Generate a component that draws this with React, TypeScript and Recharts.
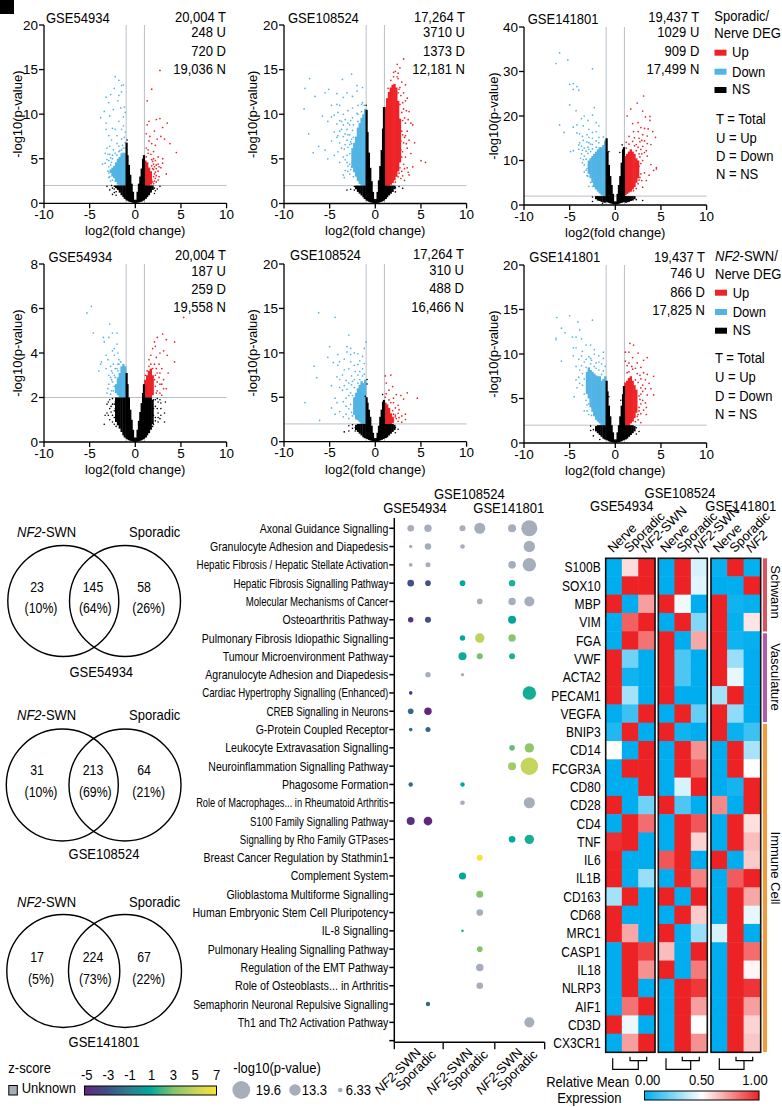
import { ScatterChart, Scatter, XAxis, YAxis, ReferenceLine, ReferenceArea, Label } from 'recharts';

const FONT = '"Liberation Sans", Arial, sans-serif';
const RED = '#ed2327';
const BLUE = '#52b4e5';
const GRID = '#b9c0cb';

// dense part of each volcano, one row per x: [x, lowest y, highest y]
const s54Ns = [[0, .02, .15], [-.1, .05, .4], [-.25, .08, 1.3], [-.4, .1, 2.2], [-.55, .15, 3.2], [-.7, .2, 4.3], [-.85, .3, 5.4], [-.95, .35, 6.8], [-1.15, .5, 2], [-1.3, .7, 2], [-1.5, .9, 2], [-1.7, 1.2, 2], [-1.9, 1.5, 2], [-2.1, 1.7, 2], [.1, .05, .4], [.25, .08, 1.3], [.4, .1, 2.2], [.55, .15, 3], [.7, .2, 3.9], [.85, .3, 5], [.95, .35, 5.4], [1.15, .5, 2], [1.3, .7, 2], [1.5, .9, 2], [1.7, 1.2, 2], [1.9, 1.5, 2]];
const s54NsDots = [[-2.5, 1, 1.7], [-2.8, 1.5], [-2.3, 1.2, 1.6, 1.9], [-2.1, .9, 1.3], [2.1, 1.1, 1.7], [2.4, 1.6], [2.7, 1.9], [-3.1, 1.9], [-2.6, 2], [-.9, 7.1], [2.2, 1.4]];
const s54Down = [[-1.1, 2, 5.6], [-1.3, 2, 5.7], [-1.5, 2, 5.6], [-1.7, 2, 5.2], [-1.9, 2.1, 5], [-2.1, 2.4, 4.6], [-2.3, 2.8, 4.2], [-2.5, 3, 4], [-2.7, 3.4, 3.8]];
const s54DownDots = [[-2.2, 14.2], [-1.8, 13.8], [-1.5, 13.2], [-2.3, 12.9], [-1.3, 13.3], [-1.5, 12.5], [-2.7, 12.2], [-1.8, 12.1], [-3.2, 11.9], [-2.9, 11.3], [-1.9, 11.5], [-1.2, 10.8], [-1.6, 10.7], [-2.4, 10.5], [-3.4, 10.3], [-1.1, 10.2, 8, 6.8, 6.2], [-3.8, 9.6], [-2.8, 9.8], [-1.3, 9.7, 8.7, 6.2], [-1.8, 9.2, 6.4, 5.8], [-3.2, 9, 8.3], [-2.5, 8.4, 5.4, 5, 2.6], [-2.2, 8.3, 5.6, 3.2, 2.5], [-1.5, 8.3, 7.2, 6], [-2.9, 7.6, 4.1, 3.4], [-2, 7.6, 6.7, 5.4], [-2.6, 7.1, 4.6, 3.6], [-1.2, 7.4], [-2.8, 6.4, 5.5, 3], [-3.1, 6.2, 4.9], [-2.4, 6, 3.3], [-1.4, 6.5], [-3, 5.5, 3.6], [-3.3, 4.5, 5.6], [-3.6, 4.4], [-2.9, 4.8, 2.9], [-2.7, 5.1, 4.3, 2.5], [-1.7, 5.9]];
const s54Up = [[1.1, 2, 4.8], [1.3, 2, 4.6], [1.5, 2, 4], [1.7, 2.1, 3.6]];
const s54UpDots = [[2.7, 14.9], [1.8, 12.8], [1.3, 11.5], [2.7, 9.5], [2.3, 9.4], [3.5, 9], [1.5, 9.2, 7], [1.3, 8.8], [3, 8.5, 4.5, 5], [2.1, 8.1], [1.6, 7.5], [1.2, 7.8, 6.2, 5.2], [2.4, 7.2], [3.2, 7.2], [2.8, 7.5, 4], [1.8, 6.7, 4.9, 4.2, 2.6], [2.2, 6.5, 4.8, 3.5, 2.8], [3.8, 6.7], [4.5, 5.7], [1.4, 6, 5.6], [1.7, 5.5], [2.5, 5.2, 3.6, 2.6, 4.4], [2, 5.8, 5, 4.4, 3.8, 3, 2.2], [3.4, 3.3], [2.6, 3, 4.1], [2.3, 3.9, 2.4, 4.3, 3.1], [1.9, 3.9, 4.7, 2.4], [2.1, 2.5, 3.3, 4.1]];

const s108Ns = [[0, .02, .2], [-.1, .05, .5], [-.25, .08, 1.3], [-.4, .1, 2.5], [-.55, .15, 4], [-.7, .2, 5.7], [-.85, .3, 8], [-.95, .35, 10.5], [-1.15, .5, 2], [-1.3, .7, 2], [-1.5, .9, 2], [-1.7, 1.1, 2], [-1.9, 1.3, 2], [-2.1, 1.6, 2], [.1, .05, .5], [.25, .08, 1.3], [.4, .1, 2.6], [.55, .15, 4.2], [.7, .2, 6], [.85, .3, 8.4], [.95, .35, 10.8], [1.15, .5, 2], [1.3, .7, 2], [1.5, .9, 2], [1.7, 1.1, 2], [1.9, 1.3, 2], [2.1, 1.6, 2]];
const s108NsDots = [[-2.3, 1.5, 1.9], [-2.7, 1.6], [-3.1, 1.5], [2.2, 1.3, 1.8], [2.6, 1.9], [3, 1.7], [-1, 11]];
const s108Down = [[-1.1, 2, 10.6], [-1.3, 2, 10], [-1.5, 2, 9.6], [-1.7, 2.2, 9], [-1.9, 2.5, 8.5], [-2.1, 3, 7.5], [-2.3, 3.5, 6.8], [-2.5, 4, 6.2]];
const s108DownDots = [[-7.7, 12.9], [-7.2, 14], [-7.8, 10.6], [-7.3, 7.8], [-6.6, 12], [-5.8, 9.8], [-6.2, 6.4], [-6.8, 5.7], [-5.5, 6], [-5.1, 12.8], [-5.5, 12.4], [-2.6, 14.5], [-3.6, 13.9], [-2, 13.2, 12.6, 10.1], [-1.4, 13, 11.3], [-3.1, 12.4, 8.3, 5.4, 7.1, 4.6], [-4.2, 12.3, 11.1, 8.9, 7.4], [-3.5, 11.9, 10, 7.5, 5.2, 3.2, 8.8], [-2.5, 12, 10.7, 9.6, 8.2], [-4.8, 11, 9.7, 7], [-3.9, 11, 9.3, 6.8, 4.6, 8.1], [-1.2, 11], [-3, 10.4, 9, 4.2, 6.3, 7.7, 3.6], [-4.5, 9.9, 8, 5.4], [-3.3, 9.4, 6.6, 3.7, 7.8, 4.9], [-5.2, 9.2, 5], [-2.8, 8.8, 7.7, 3.3, 6.6, 5.6, 4.4], [-3.7, 8.3, 6.2, 9.2], [-4.1, 7.6, 5.8, 10.2], [-2.4, 8.8, 3, 7.4], [-1.5, 10.3, 11.1], [-1.9, 10, 9.2, 11], [-2.7, 9.3, 6.9, 3.8], [-2.6, 7.2, 6.7, 4.1], [-3.4, 6.1, 2.9]];
const s108Up = [[1.1, 2, 10.8], [1.3, 2, 11.8], [1.5, 2, 12.5], [1.7, 2.1, 13], [1.9, 2.3, 13.3], [2.1, 2.6, 13.4], [2.3, 3, 13], [2.5, 3.6, 11.5], [2.7, 4.6, 9.5]];
const s108UpDots = [[2.5, 14, 14.6, 12.4, 3], [2.9, 13.6, 10.2, 8.1, 5.2, 3.6], [2.7, 15.2, 13, 11.1, 4], [3.1, 16.2, 12.4, 10.6, 6.8, 4.4], [2.4, 15.6, 14.2], [3.3, 13.3, 11.5, 9, 5.2, 7.6], [3.5, 11.8, 8.1, 6.2, 4], [3.7, 10.3, 7.1, 3.2], [3.9, 9, 5.6], [4.1, 8.8, 4.1], [4.3, 6.8], [5, 4.8], [5.5, 4.6], [3.2, 7.4, 3.9, 2.6, 9.6], [3.6, 3.5, 9.4], [2, 14.2, 14.7], [1.7, 13.8], [2.8, 12.1, 7, 6, 2.8], [3, 11.3, 9.3, 7.7, 5.8, 3.1], [3.4, 10.4, 6.7], [2.6, 12.8, 3.4], [2.2, 14.8, 2.4], [1.4, 12.9]];

const s141Ns = [[0, .1, .5], [-.1, .15, .8], [-.25, .2, 2.5], [-.4, .3, 4.5], [-.55, .4, 6.5], [-.7, .5, 9], [-.85, .6, 12], [-.95, .7, 15], [-1.15, .5, 2], [-1.3, .6, 2], [-1.5, .7, 2], [-1.7, .9, 2], [-1.9, 1, 2], [-2.1, 1.3, 2], [.1, .15, .8], [.25, .2, 2.5], [.4, .3, 4.5], [.55, .4, 6.5], [.7, .5, 9.5], [.85, .6, 12.5], [.95, .7, 13], [1.15, .5, 2], [1.3, .6, 2], [1.5, .7, 2], [1.7, .9, 2], [1.9, 1, 2], [2.1, 1.3, 2]];
const s141NsDots = [[-2.5, .8, 1.8], [-1.4, .4], [2.3, 1.2], [3, 1], [-.7, 12], [.5, 11.8], [.75, 13.5]];
const s141Down = [[-1.1, 2, 14.5], [-1.3, 2, 13.5], [-1.5, 2.2, 13], [-1.7, 2.6, 13], [-1.9, 3, 12.5], [-2.1, 3.5, 12], [-2.3, 4, 11.5], [-2.5, 5, 11], [-2.7, 6, 10.5], [-2.9, 7, 10]];
const s141DownDots = [[-6.1, 34.2], [-6.5, 31.8], [-5.2, 32.6], [-2.5, 30.6], [-5, 27.1], [-4.6, 27.3, 26], [-4.2, 26.6], [-4, 25.8], [-5, 22.5], [-4.3, 21.2], [-2.3, 21.9], [-2.5, 20.2, 15, 13.6], [-3.4, 20, 12.8, 11, 9], [-3.7, 19.4, 13.2, 11.5], [-3, 19, 13, 11.6, 6.5], [-6.1, 18], [-4.2, 18, 16.2], [-5.6, 16.3], [-3.5, 17.8, 14.5, 10.2], [-2.9, 17, 15.2, 12.5], [-2.1, 18.5, 16.5, 14.4, 13], [-4.6, 17.5, 12.2], [-3.9, 16, 14], [-1.8, 17.8, 15.2, 14], [-3.1, 15.8, 14.2, 8.2, 6.6], [-2.5, 16.3, 12.6, 4.2], [-4, 12.5, 13.5], [-1.3, 15.3], [-4.9, 12], [-3.6, 12.3, 9.5, 15.4], [-3.4, 7.4], [-3.8, 10.5], [-2.9, 4.2, 14], [-2.7, 13.7, 12, 5.1], [-3.2, 12.1, 10.3, 7.8]];
const s141Up = [[1.1, 2.2, 11], [1.3, 2.5, 11.5], [1.5, 2.8, 12], [1.7, 3, 12.5], [1.9, 3.5, 12], [2.1, 4, 11.5], [2.3, 5, 10.5], [2.5, 6, 10]];
const s141UpDots = [[3.1, 24.5], [1.7, 21.6], [2.4, 22.9], [3, 21.1], [3.3, 19.8], [3.8, 19.9, 19], [1.3, 20], [1.9, 18.3, 14.3], [2.5, 18.5, 16.5, 13, 4.8], [2.8, 17.4, 12.5, 9.3, 7], [3.2, 17.2], [3.6, 17.1], [4.1, 16.5], [4.4, 15.2], [1.5, 15.4, 13.7], [2.1, 15.1, 13.3], [3, 15.8, 13.2, 10, 4], [3.5, 15.5, 13.8, 11], [3.2, 14.4, 7.2, 11.8], [3.9, 13.6, 9.1], [4.5, 8.4, 8.1], [4.2, 7.8], [3.4, 5.5, 12.2], [2.9, 11.5, 5.5, 14.5], [3.7, 6.7], [2.3, 13.6, 12.2, 3.7], [2.6, 15, 11.5, 8.7, 5.6], [2.7, 14.2, 10.8, 6.2], [1.2, 14.1, 12.8], [2, 16.5, 3.2]];

const n54Ns = [[0, .01, .06], [-.1, .02, .2], [-.25, .03, .55], [-.4, .04, 1], [-.55, .06, 1.45], [-.7, .08, 2], [-.85, .12, 2.6], [-.95, .15, 3.1], [-1.15, .2, 2], [-1.3, .3, 2], [-1.5, .45, 2], [-1.7, .6, 2], [-1.9, .75, 2], [-2.1, .9, 2], [.1, .02, .2], [.25, .03, .55], [.4, .04, .95], [.55, .06, 1.35], [.7, .08, 1.75], [.85, .12, 2.2], [.95, .15, 2.6], [1.15, .2, 2], [1.3, .3, 2], [1.5, .4, 2], [1.7, .55, 2], [1.9, .8, 1.9]];
const n54NsDots = [[-3.4, .8], [-3.1, 1.3, 1.7], [-2.8, 1, 1.5, 1.9], [-2.5, .9, 1.2, 1.7, 1.95], [-2.3, .8, 1.4, 1.1, 1.7], [-2.2, 1.8, 1.5], [-3.3, 1.2], [2.2, 1.1, 1.6, .95, 1.9], [2.5, .9, 1.3, 1.8, 1.1], [2.8, 1.2, 1.5, 1.75], [3.2, .9, 1.3], [3.3, 1.8], [2, .8, 1.9, 1.2, 1.5], [-2.1, .7], [1.9, .7], [2.4, 1.5, 1.95], [2.7, 1.05, 1.9], [-2.65, 1.35, 1.6], [-2.95, 1.2, 1.8]];
const n54Down = [[-1.1, 2, 3.4], [-1.3, 2, 3.5], [-1.5, 2, 3.4], [-1.7, 2, 3.1], [-1.9, 2.1, 2.9], [-2.1, 2.2, 2.6]];
const n54DownDots = [[-4.8, 6.1], [-5.3, 5.8], [-2.8, 5.3], [-4.6, 4.9], [-2.5, 4.9, 3.1], [-2, 4.9, 4.4, 3.3], [-3.5, 4.7], [-2.9, 4.7], [-3.4, 4.5], [-2.3, 4.2, 3.9, 2.5, 3], [-2.5, 4.1, 2.7], [-1.9, 4, 3.5, 3.2], [-3.2, 3.9], [-3.7, 3.6], [-3, 3.7, 2.4], [-3.8, 3.5], [-2.7, 3.4, 2.9, 2.15], [-3.2, 3.3], [-4, 3.2], [-2.4, 3.5, 2.3], [-2.9, 2.6, 3], [-3.1, 2.2], [-2.6, 2.3, 3.2, 2.8], [-1.6, 3.6], [-2.2, 3.3, 2.9], [-1.8, 3.5, 3.7]];
const n54Up = [[1.1, 2, 2.8], [1.3, 2, 3], [1.5, 2, 3.2], [1.7, 2, 3.3], [1.9, 2.1, 3]];
const n54UpDots = [[5.3, 5.6], [3, 4.85], [2.4, 4.7], [4.3, 4.5], [3.4, 4.6], [2.2, 4.3, 2.5, 3], [1.9, 4.2, 3.3], [2.7, 4, 2.2], [2.1, 4.5, 3.5, 2.8], [1.7, 3.9, 3.5], [2.3, 3.8, 3.3, 2.2], [1.5, 3.7, 3.4], [3.5, 3.9], [3.1, 4.1, 2.4], [2.6, 3.5, 2.9], [2.9, 3.3, 2.6], [4.3, 3.6], [3.6, 3.1], [2.4, 3.1, 2.7], [1.3, 3.2], [3.1, 2.8], [2.7, 2.6, 3.1], [3.4, 2.4], [2.4, 2.3], [2.9, 2.1], [1.1, 3]];

const n108Ns = [[0, .02, .2], [-.1, .05, .4], [-.25, .08, 1], [-.4, .1, 1.8], [-.55, .15, 2.8], [-.7, .2, 3.6], [-.85, .3, 4.4], [-.95, .35, 5], [-1.15, .4, 2], [-1.3, .5, 2], [-1.5, .7, 2], [-1.7, .9, 2], [-1.9, 1.1, 2], [-2.1, 1.3, 1.9], [.1, .05, .4], [.25, .08, 1], [.4, .1, 1.8], [.55, .15, 2.8], [.7, .2, 3.6], [.85, .3, 4.5], [.95, .35, 4.7], [1.15, .4, 2], [1.3, .5, 2], [1.5, .7, 2], [1.7, .9, 2], [1.9, 1.1, 2], [2.1, 1.3, 1.9]];
const n108NsDots = [[-3.4, 1.1], [-2.9, 1.2, 1.8], [-2.5, 1.5, 1.9], [-2.2, 1.2, 1.6], [2.2, 1, 1.6], [2.5, 1.4], [-1.1, 5.1], [.8, 5.3], [-.9, 7, 6.5]];
const n108Down = [[-1.1, 2, 7], [-1.3, 2, 6.6], [-1.5, 2, 6.8], [-1.7, 2.2, 6.4], [-1.9, 2.4, 6], [-2.1, 2.5, 5.5], [-2.3, 3, 5]];
const n108DownDots = [[-6.2, 14.5], [-4.4, 14], [-2.9, 12], [-1, 11.2], [-1.2, 10.5, 8.8, 7.6], [-5, 10.7], [-3.1, 10.7, 10.1, 5.9], [-2.7, 10.5, 9.8, 9, 5.5, 4.2], [-2.3, 10, 8.6, 6.1, 7], [-4.1, 9.8, 8.6], [-1.9, 9.9, 8.7, 7.5, 6.6], [-1.4, 9.6, 8.2, 7.4], [-5.2, 9.5], [-3.4, 9.3, 8.1, 6.3], [-3.9, 9, 7], [-4.6, 8.9], [-1.7, 9.1, 7.9, 7], [-6.7, 8.5], [-2.9, 8.2, 6.6, 3.7], [-3.6, 7.5, 5.8], [-6.4, 7.2], [-4.2, 7.3, 4.4], [-2.6, 7.4, 6.4, 3.3], [-3.2, 6.9, 4.9, 3.1, 4], [-4.8, 6.3, 3.8], [-3.9, 6.1, 3.4], [-7.7, 4.4], [-3.5, 4.5, 2.8], [-2.9, 5.2, 2.6], [-6.1, 2.4], [-4.4, 4.9, 3.1], [-2.2, 7.9, 3.9], [-2.5, 6.8, 5.2, 2.9]];
const n108Up = [[1.1, 2, 4.4], [1.3, 2, 4.2], [1.5, 2, 3.8], [1.7, 2, 3.2], [1.9, 2.1, 2.8]];
const n108UpDots = [[1.1, 7.4], [1.7, 7.5], [1.2, 6.6, 5.4], [1.9, 6.2, 3.5], [1.5, 5.8, 4.7], [1.1, 5], [2.3, 5.3, 2.6], [2.8, 5.2], [3.5, 5.5], [4.6, 4.9], [2, 4.9, 4.4, 3.1, 2.4], [3.1, 4.8], [2.5, 4.1, 3.2, 2.3], [1.7, 4.4], [2.6, 3.6, 2.7], [3.3, 3.1, 2.5], [2.9, 2.9, 2.2], [2.2, 3.8, 3, 2.8]];

const n141Ns = [[0, .02, .2], [-.1, .05, .4], [-.25, .08, 1.2], [-.4, .1, 2], [-.55, .15, 3], [-.7, .2, 4.2], [-.85, .3, 5.8], [-.95, .35, 7], [-1.15, .4, 2], [-1.3, .5, 2], [-1.5, .7, 2], [-1.7, .9, 2], [-1.9, 1.1, 2], [-2.1, 1.3, 1.9], [.1, .05, .4], [.25, .08, 1.2], [.4, .1, 2], [.55, .15, 3], [.7, .2, 4.2], [.85, .3, 5.5], [.95, .35, 6.4], [1.15, .4, 2], [1.3, .5, 2], [1.5, .7, 2], [1.7, .9, 2], [1.9, 1.1, 2], [2.1, 1.3, 1.9]];
const n141NsDots = [[-2.4, .8, 1.5], [-2.7, 1.4, 1.9], [-1.7, .4], [2.3, 1, 1.7], [2.6, 1.3], [.6, 4.8], [-.7, 5.2]];
const n141Down = [[-1.1, 2, 7.5], [-1.3, 2, 7.2], [-1.5, 2, 7], [-1.7, 2.2, 7.5], [-1.9, 2.4, 7.5], [-2.1, 2.6, 7.6], [-2.3, 3, 7.8], [-2.5, 3.5, 8], [-2.7, 4, 8.2], [-2.9, 5, 8.5], [-3.1, 5.5, 8]];
const n141DownDots = [[-6.4, 14.1], [-5, 14.3], [-4.1, 13.6], [-2.5, 13.8], [-3.9, 12.7], [-5.9, 12.9], [-5.5, 12.4], [-6.5, 11.8, 11.6], [-4.7, 11.9], [-4.3, 11.9, 10.7], [-3.7, 11.7, 9.8, 8.7], [-3.2, 11, 9.4, 8.5, 4.8], [-2.7, 11, 9.5, 8.9], [-4.6, 10.7, 9.8], [-3.6, 10.3, 7.8, 6.5], [-2.3, 10.5, 10, 8.6], [-1.3, 10.2, 9.5, 8.1], [-1.8, 9.8, 9.1, 8.2], [-5.9, 9.2], [-4, 9.4, 7.4], [-4.3, 8.6, 7.1], [-3.9, 8.2, 6.7], [-4.2, 6.2], [-4.5, 5.2], [-3.4, 5.5, 3.6, 9.1, 7.2], [-2.9, 3.2, 4.4, 9.7], [-1.1, 8.6], [-3.1, 4.3, 3.6], [-2.6, 3.1, 9.3], [-2.1, 9, 8.4], [-1.5, 8.9, 7.7]];
const n141Up = [[1.1, 2, 6.8], [1.3, 2, 7], [1.5, 2, 7.3], [1.7, 2.2, 7.5], [1.9, 2.4, 7], [2.1, 2.8, 6.5], [2.3, 3.4, 6]];
const n141UpDots = [[1.6, 11.2], [2, 11], [1.1, 10.2, 9.2], [1.5, 10.2, 9, 8], [2.5, 10.1, 6.8], [1.9, 9.6, 8.3], [3.5, 9.6], [3.1, 9.3], [2.4, 9, 7.8, 3], [1.3, 8.7, 7.9], [2.8, 8.5, 7.2, 5.5, 4.4], [3.1, 7.9, 3.7], [3.5, 7.7, 5.4], [4.2, 7.5], [3.3, 7.1, 4.5, 6.1], [3.7, 6.7], [3, 6.5, 5.8], [3.9, 6.1], [4.2, 5.4], [3.4, 4, 3.2], [2.8, 3.3, 2.3, 6.2], [3, 4.8], [2.6, 5.3, 4, 3.6], [2.7, 7.6, 4.9], [2.2, 8.4, 7.1, 2.4], [1.8, 8.6], [2.5, 3.2, 2.6]];

const volcanoTicksX = [-10, -5, 0, 5, 10];
const ticks20 = [0, 5, 10, 15, 20];
const ticks40 = [0, 10, 20, 30, 40];
const ticks8 = [0, 2, 4, 6, 8];

const toPoints = (rows: number[][]) =>
  rows.flatMap(([x, ...ys]) => ys.map((y) => ({ x, y })));

const Dot = (color: string, r: number) => (p: any) => <circle cx={p.cx} cy={p.cy} r={r} fill={color} />;
const NoDot = () => <g />;

// one thick library line per x fills the solid part of a cloud
const massSeries = (rows: number[][], color: string, width: number, key: string) =>
  rows.map(([x, low, high]) => (
    <Scatter key={key + x} data={[{ x, y: low }, { x, y: high }]} isAnimationActive={false}
      line={{ stroke: color, strokeWidth: width }} shape={NoDot} />
  ));

type VolcanoProps = {
  x0: number; yTop: number; yZero: number; yMax: number; yTicks: number[]; labelOffset: number;
  ns: number[][]; nsDots: number[][]; down: number[][]; downDots: number[][]; up: number[][]; upDots: number[][];
};

const AXIS_W = 46;
const Volcano = ({ x0, yTop, yZero, yMax, yTicks, labelOffset, ns, nsDots, down, downDots, up, upDots }: VolcanoProps) => {
  const plotH = yZero - yTop;
  return (
    <div style={{ position: 'absolute', left: x0 - AXIS_W, top: yTop - 8 }}>
      <ScatterChart width={AXIS_W + 182.6 + 14} height={plotH + 8 + 38} margin={{ top: 8, right: 14, left: 0, bottom: 0 }}>
        <ReferenceLine x={-1} stroke={GRID} strokeWidth={1} />
        <ReferenceLine x={1} stroke={GRID} strokeWidth={1} />
        <ReferenceLine y={2} stroke={GRID} strokeWidth={1} />
        <XAxis type="number" dataKey="x" domain={[-10, 10]} ticks={volcanoTicksX} interval={0} height={38}
          tick={{ fontSize: 13.5, fill: '#000' }} tickSize={5} tickMargin={1} stroke="#000" strokeWidth={1.3}>
          <Label value="log2(fold change)" position="insideBottom" offset={6} style={{ fontSize: 13, fill: '#000' }} />
        </XAxis>
        <YAxis type="number" dataKey="y" domain={[0, yMax]} ticks={yTicks} interval={0} width={AXIS_W}
          tick={{ fontSize: 13.5, fill: '#000' }} tickSize={5} tickMargin={1} stroke="#000" strokeWidth={1.3}>
          <Label value="-log10(p-value)" angle={-90} position="insideLeft" offset={AXIS_W - labelOffset}
            style={{ fontSize: 13, fill: '#000', textAnchor: 'middle' }} />
        </YAxis>
        {massSeries(down, BLUE, 2.4, 'd')}
        {massSeries(up, RED, 2.4, 'u')}
        <Scatter data={toPoints(downDots)} isAnimationActive={false} shape={Dot(BLUE, 0.85)} />
        <Scatter data={toPoints(upDots)} isAnimationActive={false} shape={Dot(RED, 0.85)} />
        <Scatter data={toPoints(nsDots)} isAnimationActive={false} shape={Dot('#000', 0.8)} />
        {massSeries(ns, '#000', 2.2, 'n')}
      </ScatterChart>
    </div>
  );
};

// bubble panel
const pathways = [
  'Axonal Guidance Signalling', 'Granulocyte Adhesion and Diapedesis', 'Hepatic Fibrosis / Hepatic Stellate Activation',
  'Hepatic Fibrosis Signalling Pathway', 'Molecular Mechanisms of Cancer', 'Osteoarthritis Pathway',
  'Pulmonary Fibrosis Idiopathic Signalling', 'Tumour Microenvironment Pathway', 'Agranulocyte Adhesion and Diapedesis',
  'Cardiac Hypertrophy Signalling (Enhanced)', 'CREB Signalling in Neurons', 'G-Protein Coupled Receptor',
  'Leukocyte Extravasation Signalling', 'Neuroinflammation Signalling Pathway', 'Phagosome Formation',
  'Role of Macrophages... in Rheumatoid Arthritis', 'S100 Family Signalling Pathway', 'Signalling by Rho Family GTPases',
  'Breast Cancer Regulation by Stathmin1', 'Complement System', 'Glioblastoma Multiforme Signalling',
  'Human Embryonic Stem Cell Pluripotency', 'IL-8 Signalling', 'Pulmonary Healing Signalling Pathway',
  'Regulation of the EMT Pathway', 'Role of Osteoblasts... in Arthritis', 'Semaphorin Neuronal Repulsive Signalling',
  'Th1 and Th2 Activation Pathway',
];
// the original squeezes some labels more than others
const pathwayScale: Record<number, number> = { 2: .755, 3: .75, 4: .74, 9: .745, 10: .75, 15: .715, 16: .745, 17: .74, 25: .83, 26: .79 };
const bubbleCols = [0.95, 1.95, 3.95, 4.95, 6.82, 7.82];
const bubbleColNames = ['NF2', 'Sporadic', 'NF2', 'Sporadic', 'NF2', 'Sporadic'];
const bubbleSeparators = [0, 2.83, 5.82, 8.71];
// [row, column, -log10 p, z-score or null]
const bubbles: [number, number, number, number | null][] = [
  [0, 0, 8.4, null], [0, 1, 9.1, null], [0, 2, 7.8, null], [0, 3, 12.8, null], [0, 4, 9.8, null], [0, 5, 17.8, null],
  [1, 0, 5.2, null], [1, 1, 8.2, null], [1, 2, 6.4, null], [1, 5, 13.2, null],
  [2, 0, 5.6, null], [2, 1, 6.8, null], [2, 4, 9.4, null], [2, 5, 15.2, null],
  [3, 0, 8.4, -2.9], [3, 1, 7.4, -2.9], [3, 2, 7.4, 1], [3, 4, 8.2, 1.5],
  [4, 3, 7.4, null], [4, 4, 9.2, null], [4, 5, 11.8, null],
  [5, 0, 7.2, -4.3], [5, 1, 7.8, -3], [5, 4, 9.8, .8],
  [6, 2, 7.2, 1], [6, 3, 11.2, 4.8], [6, 4, 9.2, 3.3],
  [7, 2, 9.8, 1.2], [7, 3, 7.8, 2.9], [7, 4, 7.8, 1.5],
  [8, 1, 7.2, null], [8, 2, 5.2, null],
  [9, 0, 5.4, -4.3], [9, 5, 15.2, 1.3],
  [10, 0, 7.4, -2], [10, 1, 9.2, -5],
  [11, 0, 5.4, -1.7], [11, 1, 6.8, -2],
  [12, 4, 7.4, 2.6], [12, 5, 11.2, 3.5],
  [13, 4, 9.8, 4], [13, 5, 19.2, 5],
  [14, 0, 6.2, -1.7], [14, 2, 6.2, .8],
  [15, 2, 6.4, null], [15, 5, 12.8, null],
  [16, 0, 9.8, -4.4], [16, 1, 10.4, -5],
  [17, 4, 8.4, 1], [17, 5, 11.2, 1.4],
  [18, 3, 7.8, 7], [19, 2, 8.8, .9], [20, 3, 8.8, 3.2], [21, 3, 8.4, null],
  [22, 2, 4.4, 1.6], [23, 3, 7.4, 3.1], [24, 3, 9.2, null], [25, 3, 8.4, null],
  [26, 1, 6.2, -2], [27, 5, 11.8, null],
];
const bubbleData = bubbles.map(([row, col, p, z]) => ({ x: bubbleCols[col], y: row, p, z }));
const bubbleTicksY = pathways.map((_, i) => i).concat(pathways.length);
const bubbleTicksX = [...bubbleSeparators, ...bubbleCols].sort((a, b) => a - b);

const zStops: [number, string][] = [[-5, '#61267f'], [-3, '#404f85'], [-1, '#2f7c91'], [1, '#00a99d'], [3, '#7fc26f'], [5, '#c5d45c'], [7, '#f7e23a']];
const UNKNOWN = '#a7aebb';
const mix = (a: string, b: string, t: number) => {
  const ch = (s: string, i: number) => parseInt(s.slice(i, i + 2), 16);
  const c = [1, 3, 5].map((i) => Math.round(ch(a, i) + (ch(b, i) - ch(a, i)) * t));
  return `rgb(${c.join(',')})`;
};
const zColor = (z: number | null) => {
  if (z === null) return UNKNOWN;
  for (let i = 1; i < zStops.length; i++) {
    if (z <= zStops[i][0]) return mix(zStops[i - 1][1], zStops[i][1], (z - zStops[i - 1][0]) / 2);
  }
  return zStops[zStops.length - 1][1];
};
const bubbleR = (p: number) => (p - 1.75) / 2;

const PathwayTick = ({ x, y, payload }: any) => {
  const name = pathways[payload.value];
  if (!name) return null;
  return (
    <text transform={`translate(${x},${y}) scale(${pathwayScale[payload.value] ?? .81},1)`} textAnchor="end" dy={4.5} fontSize={13} fill="#000">{name}</text>
  );
};
const BubbleXTick = ({ x, y, payload }: any) => {
  const v = payload.value;
  const i = bubbleCols.indexOf(v);
  if (i < 0) return <line x1={x} x2={x} y1={y} y2={y + 7} stroke="#000" strokeWidth={1.3} />;
  const nf = bubbleColNames[i] === 'NF2';
  return (
    <text transform={`translate(${x + (nf ? 11 : 9)},${y + (nf ? 11 : 13)}) rotate(-45)`} textAnchor="end" fontSize={13} fill="#000">
      {nf ? <><tspan fontStyle="italic">NF2</tspan>-SWN</> : 'Sporadic'}
    </text>
  );
};

// heatmap
const genes = ['S100B', 'SOX10', 'MBP', 'VIM', 'FGA', 'VWF', 'ACTA2', 'PECAM1', 'VEGFA', 'BNIP3', 'CD14', 'FCGR3A', 'CD80', 'CD28', 'CD4', 'TNF', 'IL6', 'IL1B', 'CD163', 'CD68', 'MRC1', 'CASP1', 'IL18', 'NLRP3', 'AIF1', 'CD3D', 'CX3CR1'];
const heatCols = [.5, 1.5, 2.5, 3.7, 4.7, 5.7, 6.91, 7.91, 8.91];
const heatColNames = ['Nerve', 'Sporadic', 'NF2-SWN', 'Nerve', 'Sporadic', 'NF2-SWN', 'Nerve', 'Sporadic', 'NF2'];
const heatValues = [
  [0, .58, 1, 0, 1, .42, .02, 1, .01],
  [0, 1, 1, 0, 1, .44, 0, 0, 1],
  [1, 0, .72, 1, .47, 0, 1, .03, .01],
  [0, .86, 1, 0, 1, .25, 1, .01, .56],
  [0, 1, .82, 1, 0, .7, 1, .03, .01],
  [1, .22, 0, 1, .15, 0, 1, .3, 0],
  [1, .03, 0, 1, .15, 0, 1, .45, 0],
  [1, .32, 0, 1, 0, 0, .32, 1, 0],
  [0, .12, 1, 0, 1, .2, 1, .28, 0],
  [.06, 1, 0, 1, .03, 0, 1, .02, .12],
  [.5, 0, 1, 0, 1, .75, 0, 1, .33],
  [0, 1, 1, 0, 1, .85, 0, 1, .5],
  [0, 0, 1, 0, .42, 1, 0, .04, 1],
  [1, 0, .22, 1, .15, 0, .77, 0, 1],
  [0, 1, .83, 0, 1, .88, 0, 1, .57],
  [.97, 1, 0, 0, 1, .6, 0, 1, .65],
  [1, 0, 0, .88, 1, 0, 1, 0, .62],
  [1, 0, .3, 0, 1, .78, 0, .87, 1],
  [.32, 1, 0, 1, 0, 1, 0, 1, .7],
  [1, 0, 0, 0, 1, .62, 0, 1, .45],
  [1, .7, 0, 1, 0, .3, .42, 1, 0],
  [0, 1, .93, .65, 0, 1, 0, 1, .83],
  [0, 1, .75, 1, 0, .8, 0, 1, .52],
  [0, 1, 0, 0, 1, .95, 0, 1, .96],
  [0, .82, 1, 0, 1, .72, 0, 1, .72],
  [1, .46, 0, 0, 1, .5, 0, 1, .6],
  [0, .72, 1, 0, 1, .75, 0, 1, .63],
];
const heatCells = heatValues.flatMap((row, r) => row.map((v, c) => ({ x: heatCols[c], y: r + .5, v })));
const geneTicks = genes.map((_, i) => i + .5);
const heatColor = (v: number) => (v < .5 ? mix('#00aeef', '#ffffff', v * 2) : mix('#ffffff', '#ed2224', (v - .5) * 2));
const HeatCell = (p: any) => <rect x={p.cx - 8.5} y={p.cy - 9.4} width={17} height={18.8} fill={heatColor(p.payload.v)} />;
const GeneTick = ({ x, y, payload }: any) => (
  <text transform={`translate(${x},${y}) scale(0.86,1)`} textAnchor="end" dy={5} fontSize={14} fill="#000">{genes[payload.value - .5]}</text>
);
const HeatColTick = ({ x, y, payload }: any) => {
  const name = heatColNames[heatCols.indexOf(payload.value)];
  const italic = name.startsWith('NF2');
  return (
    <text transform={`translate(${x - 1},${y - 5}) rotate(-45)`} fontSize={13} fill="#000">
      {italic ? <><tspan fontStyle="italic">NF2</tspan>{name.slice(3)}</> : name}
    </text>
  );
};

// venn
const vennRows = [
  { cy: 601, lx: 63.3, rx: 125, r: 55.5, top: 536.7, num: 591.7, pct: 613.3, left: ['23', '(10%)'], mid: ['145', '(64%)'], right: ['58', '(26%)'], name: 'GSE54934', nameY: 676.7 },
  { cy: 784.5, lx: 62.3, rx: 125, r: 56, top: 720, num: 775, pct: 796.7, left: ['31', '(10%)'], mid: ['213', '(69%)'], right: ['64', '(21%)'], name: 'GSE108524', nameY: 859.3 },
  { cy: 971, lx: 63.3, rx: 125, r: 56.5, top: 907.3, num: 962.3, pct: 984, left: ['17', '(5%)'], mid: ['224', '(73%)'], right: ['67', '(22%)'], name: 'GSE141801', nameY: 1047 },
];
const VennChart = ({ lx, rx, cy, r }: { lx: number; rx: number; cy: number; r: number }) => (
  <div style={{ position: 'absolute', left: 0, top: cy - 70 }}>
    <ScatterChart width={190} height={140} margin={{ top: 0, right: 0, left: 0, bottom: 0 }}>
      <XAxis type="number" dataKey="x" domain={[0, 190]} hide />
      <YAxis type="number" dataKey="y" domain={[0, 140]} hide />
      <Scatter data={[{ x: lx, y: 70 }, { x: rx, y: 70 }]} isAnimationActive={false}
        shape={(p: any) => <circle cx={p.cx} cy={p.cy} r={r} fill="none" stroke="#000" strokeWidth={1.4} />} />
    </ScatterChart>
  </div>
);

const volcanoStats = [
  { name: 'GSE54934', nx: 46, ny: 22.7, rx: 226, ys: [21.7, 37.3, 55.7, 74], lines: ['20,004 T', '248 U', '720 D', '19,036 N'] },
  { name: 'GSE108524', nx: 288, ny: 22.7, rx: 465, ys: [21.7, 37.3, 55.7, 74], lines: ['17,264 T', '3710 U', '1373 D', '12,181 N'] },
  { name: 'GSE141801', nx: 527.7, ny: 24, rx: 699.3, ys: [21.7, 37.3, 55.7, 74], lines: ['19,437 T', '1029 U', '909 D', '17,499 N'] },
  { name: 'GSE54934', nx: 48.5, ny: 262, rx: 226, ys: [260, 276, 294, 312], lines: ['20,004 T', '187 U', '259 D', '19,558 N'] },
  { name: 'GSE108524', nx: 290, ny: 260, rx: 464, ys: [259, 275, 293, 312], lines: ['17,264 T', '310 U', '488 D', '16,466 N'] },
  { name: 'GSE141801', nx: 529.3, ny: 262, rx: 705, ys: [262, 277.7, 296.7, 315], lines: ['19,437 T', '746 U', '866 D', '17,825 N'] },
];
const legendKinds = [['Up', RED], ['Down', BLUE], ['NS', '#000']];
const legendKey = ['T = Total', 'U = Up', 'D = Down', 'N = NS'];
const zLegendTicks = [-5, -3, -1, 1, 3, 5, 7];
const sizeLegend = [[19.6, 241.3, 255.7], [13.3, 295, 301.7], [6.33, 340.3, 345.7]];
const heatBrackets = [[612.7, 638.3, 630, 646.7], [666, 690.7, 682.3, 699.3], [719.3, 744, 736, 752.7]];

const T = ({ x, y, a, size = 14, children, sx = .93 }: any) => (
  <text textAnchor={a || 'start'} fontSize={size} fill="#000"
    transform={`translate(${x},${y}) scale(${sx},1)`}>{children}</text>
);

export default function App() {
  return (
    <div style={{ position: 'absolute', left: 0, top: 0, width: 782, height: 1107, overflow: 'hidden', background: '#fff', fontFamily: FONT }}>
      <Volcano x0={43.5} yTop={25} yZero={203.3} yMax={20} yTicks={ticks20} labelOffset={26.5} ns={s54Ns} nsDots={s54NsDots} down={s54Down} downDots={s54DownDots} up={s54Up} upDots={s54UpDots} />
      <Volcano x0={283.5} yTop={25} yZero={203.5} yMax={20} yTicks={ticks20} labelOffset={31.5} ns={s108Ns} nsDots={s108NsDots} down={s108Down} downDots={s108DownDots} up={s108Up} upDots={s108UpDots} />
      <Volcano x0={524} yTop={26.7} yZero={204.7} yMax={40} yTicks={ticks40} labelOffset={31} ns={s141Ns} nsDots={s141NsDots} down={s141Down} downDots={s141DownDots} up={s141Up} upDots={s141UpDots} />
      <Volcano x0={44.3} yTop={264} yZero={442} yMax={8} yTicks={ticks8} labelOffset={27} ns={n54Ns} nsDots={n54NsDots} down={n54Down} downDots={n54DownDots} up={n54Up} upDots={n54UpDots} />
      <Volcano x0={284.3} yTop={264.3} yZero={442} yMax={20} yTicks={ticks20} labelOffset={32} ns={n108Ns} nsDots={n108NsDots} down={n108Down} downDots={n108DownDots} up={n108Up} upDots={n108UpDots} />
      <Volcano x0={524.3} yTop={265.3} yZero={443.3} yMax={20} yTicks={ticks20} labelOffset={31} ns={n141Ns} nsDots={n141NsDots} down={n141Down} downDots={n141DownDots} up={n141Up} upDots={n141UpDots} />

      {vennRows.map((v) => <VennChart key={v.name} lx={v.lx} rx={v.rx} cy={v.cy} r={v.r} />)}

      <div style={{ position: 'absolute', left: 170, top: 510 }}>
        <ScatterChart width={380} height={594} margin={{ top: 8, right: 5.3, left: 0, bottom: 0 }}>
          <XAxis type="number" dataKey="x" domain={[0, 8.71]} ticks={bubbleTicksX} interval={0} height={61.7}
            tick={<BubbleXTick />} tickLine={false} tickSize={0} tickMargin={0} stroke="#000" strokeWidth={1.5} />
          <YAxis type="number" dataKey="y" domain={[-.56, 28.09]} reversed ticks={bubbleTicksY} interval={0} width={224.3}
            tick={<PathwayTick />} tickSize={5} tickMargin={1} stroke="#000" strokeWidth={1.5} />
          <Scatter data={bubbleData} isAnimationActive={false}
            shape={(p: any) => <circle cx={p.cx} cy={p.cy} r={bubbleR(p.payload.p)} fill={zColor(p.payload.z)} />} />
        </ScatterChart>
      </div>

      <div style={{ position: 'absolute', left: 540, top: 480 }}>
        <ScatterChart width={239.2} height={572.3} margin={{ top: 0, right: 0, left: 0, bottom: 0 }}>
          <XAxis type="number" orientation="top" dataKey="x" domain={[0, 10.56]} ticks={heatCols} interval={0} height={78.3}
            tick={<HeatColTick />} tickLine={false} axisLine={false} tickSize={0} tickMargin={0} />
          <YAxis type="number" dataKey="y" domain={[0, 27]} reversed ticks={geneTicks} interval={0} width={65.7}
            tick={<GeneTick />} tickLine={false} axisLine={false} tickSize={0} tickMargin={5} />
          <ReferenceArea x1={9.57} x2={9.82} y1={0} y2={4} fill="#d9535e" fillOpacity={1} stroke="none" />
          <ReferenceArea x1={9.57} x2={9.82} y1={4.1} y2={8.95} fill="#b45ba6" fillOpacity={1} stroke="none" />
          <ReferenceArea x1={9.57} x2={9.82} y1={9.05} y2={27} fill="#f59a3b" fillOpacity={1} stroke="none" />
          <Scatter data={heatCells} isAnimationActive={false} shape={HeatCell} />
        </ScatterChart>
      </div>

      <svg width={782} height={1107} style={{ position: 'absolute', left: 0, top: 0, pointerEvents: 'none' }}>
        <defs>
          <linearGradient id="zGrad">
            {zStops.map(([z, c]) => <stop key={z} offset={(z + 5) / 12} stopColor={c} />)}
          </linearGradient>
          <linearGradient id="heatGrad">
            <stop offset="0" stopColor="#00aeef" />
            <stop offset=".5" stopColor="#ffffff" />
            <stop offset="1" stopColor="#ed2224" />
          </linearGradient>
        </defs>
        <rect x={0} y={0} width={14} height={14} fill="#000" />

        {volcanoStats.map((s) => (
          <g key={s.nx + s.name}>
            <T x={s.nx} y={s.ny}>{s.name}</T>
            {s.lines.map((l, i) => <T key={l} x={s.rx} y={s.ys[i]} a="end">{l}</T>)}
          </g>
        ))}

        <T x={714.3} y={20.7}>Sporadic/</T>
        <T x={714.3} y={38.3}>Nerve DEG</T>
        {legendKinds.map(([n, c], i) => (
          <g key={n}>
            <rect x={714.5} y={[49.7, 68.7, 87][i]} width={12} height={6} fill={c} />
            <T x={732} y={[57.3, 76.7, 94.3][i]}>{n}</T>
          </g>
        ))}
        {legendKey.map((n, i) => <T key={n} x={716} y={[124, 142.7, 160.7, 179][i]}>{n}</T>)}

        <T x={715} y={261}><tspan fontStyle="italic">NF2</tspan>-SWN/</T>
        <T x={715} y={279}>Nerve DEG</T>
        {legendKinds.map(([n, c], i) => (
          <g key={n}>
            <rect x={715} y={[289.7, 309, 327.7][i]} width={12} height={6} fill={c} />
            <T x={732.7} y={[298, 316.7, 335][i]}>{n}</T>
          </g>
        ))}
        {legendKey.map((n, i) => <T key={n} x={715} y={[363.3, 382, 401, 419][i]}>{n}</T>)}

        {vennRows.map((v) => (
          <g key={v.name}>
            <T x={17} y={v.top}><tspan fontStyle="italic">NF2</tspan>-SWN</T>
            <T x={129} y={v.top}>Sporadic</T>
            <T x={37} y={v.num} a="middle" sx={.88}>{v.left[0]}</T>
            <T x={41} y={v.pct} a="middle" sx={.88}>{v.left[1]}</T>
            <T x={93} y={v.num} a="middle" sx={.88}>{v.mid[0]}</T>
            <T x={95.3} y={v.pct} a="middle" sx={.88}>{v.mid[1]}</T>
            <T x={144} y={v.num} a="middle" sx={.88}>{v.right[0]}</T>
            <T x={148.7} y={v.pct} a="middle" sx={.88}>{v.right[1]}</T>
            <T x={v.name === 'GSE54934' ? 101.3 : 104} y={v.nameY} a="middle">{v.name}</T>
          </g>
        ))}

        <T x={8.3} y={1073.3}>z-score</T>
        <rect x={8.8} y={1085.5} width={8.5} height={9.5} fill={UNKNOWN} stroke="#000" strokeWidth={1} />
        <T x={21.7} y={1092.7}>Unknown</T>
        {zLegendTicks.map((t, i) => <T key={t} x={86.7 + i * 21.67} y={1080} a="middle">{t}</T>)}
        <rect x={84.5} y={1086} width={132} height={9} fill="url(#zGrad)" stroke="#000" strokeWidth={1} />

        <T x={233.3} y={1073.3}>-log10(p-value)</T>
        {sizeLegend.map(([p, cx, tx]) => (
          <g key={p}>
            <circle cx={cx} cy={1090} r={bubbleR(p) < 2.4 ? 2.3 : bubbleR(p)} fill={UNKNOWN} />
            <T x={tx} y={1095}>{p}</T>
          </g>
        ))}

        <T x={415} y={512.7} a="middle">GSE54934</T>
        <T x={469.3} y={498.7} a="middle">GSE108524</T>
        <T x={508.7} y={512.7} a="middle">GSE141801</T>
        <T x={621.7} y={510.7} a="middle">GSE54934</T>
        <T x={680} y={498.3} a="middle">GSE108524</T>
        <T x={740.7} y={510.7} a="middle">GSE141801</T>

        {[[605.7, 49.3], [658.3, 49], [711, 49.7]].map(([x, w]) => (
          <rect key={x} x={x} y={558.3} width={w} height={494} fill="none" stroke="#111" strokeWidth={1.6} />
        ))}
        <text transform="translate(771,592) rotate(90)" textAnchor="middle" fontSize={13} fill="#000">Schwann</text>
        <text transform="translate(771,677) rotate(90)" textAnchor="middle" fontSize={13} fill="#000">Vasculature</text>
        <text transform="translate(771,868) rotate(90)" textAnchor="middle" fontSize={13} fill="#000">Immune Cell</text>

        {heatBrackets.map(([a, b, c, d]) => (
          <g key={a} fill="none" stroke="#000" strokeWidth={1.2}>
            <path d={`M${a} 1058.3V1069.3H${b}V1060.7`} />
            <path d={`M${c} 1056.8V1060.7H${d}V1056.8`} />
          </g>
        ))}
        <T x={587.7} y={1087.3} a="middle">Relative Mean</T>
        <T x={589.3} y={1102.7} a="middle">Expression</T>
        <T x={647.7} y={1085} a="middle">0.00</T>
        <T x={701.7} y={1085} a="middle">0.50</T>
        <T x={755} y={1085} a="middle">1.00</T>
        <rect x={644.5} y={1091} width={114.5} height={9} fill="url(#heatGrad)" stroke="#000" strokeWidth={1} />
      </svg>
    </div>
  );
}
